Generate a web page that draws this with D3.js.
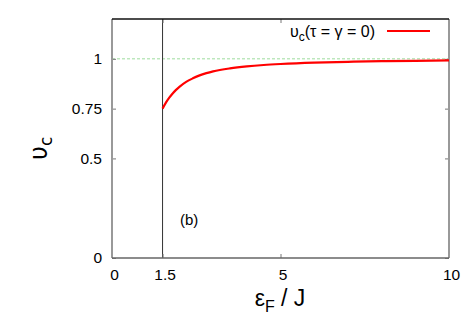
<!doctype html>
<html lang="en">
<head>
<meta charset="utf-8">
<script src="https://d3js.org/d3.v7.min.js"></script>
<style>
  body { margin: 0; background: white; }
  svg { display: block; font-family: "Liberation Sans", Arial, sans-serif; }
</style>
</head>
<body>
<svg class="mainSVG" width="467" height="327"></svg>
<script>
  // values
  var epsF = [1.5, 1.6, 1.7, 1.8, 1.9, 2.0, 2.2, 2.4, 2.6, 2.8, 3.0, 3.5, 4.0, 4.5, 5.0, 6.0, 7.0, 8.0, 9.0, 10.0];
  var upsC = [0.75, 0.78, 0.805, 0.826, 0.844, 0.859, 0.884, 0.902, 0.917, 0.928, 0.937, 0.952, 0.962, 0.969, 0.974, 0.981, 0.985, 0.988, 0.99, 0.992];
  var xTicks = [0, 1.5, 5, 10];
  var yTicks = [0, 0.5, 0.75, 1];
  var legendText = "υ";

  var svg = d3.select(".mainSVG");
  var pLeft = 112, pRight = 449, pTop = 19, pBottom = 258;
  var x = d3.scaleLinear().domain([0, 10]).range([pLeft, pRight]);
  var y = d3.scaleLinear().domain([0, 1.2]).range([pBottom, pTop]);

  // reference line at 1
  svg.append("line").attr("x1", pLeft).attr("x2", pRight).attr("y1", y(1)).attr("y2", y(1))
    .attr("stroke", "#9ddc9d").attr("stroke-width", 1).attr("stroke-dasharray", "3,2");

  // vertical line at 1.5
  svg.append("line").attr("x1", x(1.5)).attr("x2", x(1.5)).attr("y1", pTop).attr("y2", pBottom)
    .attr("stroke", "#333").attr("stroke-width", 1);

  // axes (ticks inward)
  var gl = svg.append("g").attr("transform", "translate(" + pLeft + ",0)")
    .call(d3.axisLeft(y).tickValues(yTicks).tickSize(-4).tickPadding(10).tickFormat(function(d){ return d; }));
  var gr = svg.append("g").attr("transform", "translate(" + pRight + ",0)")
    .call(d3.axisRight(y).tickValues(yTicks).tickSize(-4).tickFormat(""));
  var gb = svg.append("g").attr("transform", "translate(0," + pBottom + ")")
    .call(d3.axisBottom(x).tickValues(xTicks).tickSize(-4).tickPadding(11).tickFormat(function(d){ return d; }));
  var gt = svg.append("g").attr("transform", "translate(0," + pTop + ")")
    .call(d3.axisTop(x).tickValues(xTicks).tickSize(-4).tickFormat(""));
  [gl, gr, gb, gt].forEach(function(g){
    g.select(".domain").remove();
    g.selectAll(".tick line").attr("stroke", "#777");
    g.selectAll("text").attr("font-size", 15.5).attr("fill", "#000")
      .attr("font-family", "'Liberation Sans', Arial, sans-serif");
  });
  gb.selectAll("text").attr("dx", 2);

  // frame
  svg.append("line").attr("x1", pLeft).attr("x2", pLeft).attr("y1", pTop).attr("y2", pBottom).attr("stroke", "#999").attr("stroke-width", 2);
  svg.append("line").attr("x1", pRight).attr("x2", pRight).attr("y1", pTop).attr("y2", pBottom).attr("stroke", "#999").attr("stroke-width", 2);
  svg.append("line").attr("x1", pLeft).attr("x2", pRight).attr("y1", pBottom).attr("y2", pBottom).attr("stroke", "#666").attr("stroke-width", 1.5);
  svg.append("line").attr("x1", pLeft).attr("x2", pRight).attr("y1", pTop).attr("y2", pTop).attr("stroke", "#111").attr("stroke-width", 1.5);

  // curve
  var pts = epsF.map(function(d, i){ return [d, upsC[i]]; });
  svg.append("path").datum(pts)
    .attr("fill", "none").attr("stroke", "#ff0000").attr("stroke-width", 2.2)
    .attr("d", d3.line().x(function(d){ return x(d[0]); }).y(function(d){ return y(d[1]); }).curve(d3.curveMonotoneX));

  // legend
  var lg = svg.append("text").attr("x", 375).attr("y", 37).attr("text-anchor", "end")
    .attr("font-size", 16).attr("font-family", "'Liberation Sans', Arial, sans-serif");
  lg.append("tspan").text(legendText);
  lg.append("tspan").attr("font-size", 12).attr("dy", 4).text("c");
  lg.append("tspan").attr("dy", -4).text("(τ = γ = 0)");
  svg.append("line").attr("x1", 387).attr("x2", 430).attr("y1", 31).attr("y2", 31)
    .attr("stroke", "#ff0000").attr("stroke-width", 2.2);

  // (b)
  svg.append("text").attr("x", 180).attr("y", 225).attr("font-size", 15).text("(b)");

  // y label
  var yl = svg.append("text").attr("transform", "translate(47,160) rotate(-90)")
    .attr("font-size", 24).attr("font-family", "'DejaVu Sans', sans-serif");
  yl.append("tspan").text("υ");
  yl.append("tspan").attr("font-size", 17).attr("dy", 5).text("c");

  // x label
  var xl = svg.append("text").attr("x", 280).attr("y", 306).attr("text-anchor", "middle")
    .attr("font-size", 23).attr("font-family", "'Liberation Sans', Arial, sans-serif");
  xl.append("tspan").text("ε");
  xl.append("tspan").attr("font-size", 16).attr("dy", 6).text("F");
  xl.append("tspan").attr("dy", -6).text(" / J");
</script>
</body>
</html>
